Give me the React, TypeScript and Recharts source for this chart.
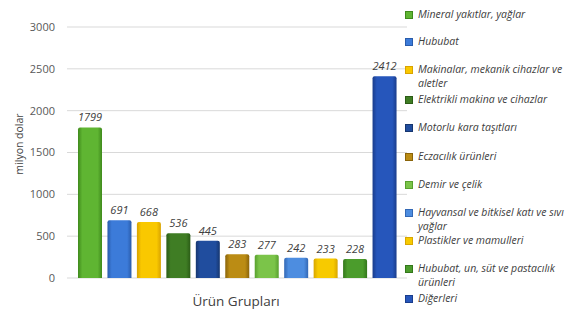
import React from "react";
import { BarChart, Bar, XAxis, YAxis, CartesianGrid, Cell, LabelList } from "recharts";

const categories = [
  "Mineral yakıtlar, yağlar",
  "Hububat",
  "Makinalar, mekanik cihazlar ve aletler",
  "Elektrikli makina ve cihazlar",
  "Motorlu kara taşıtları",
  "Eczacılık ürünleri",
  "Demir ve çelik",
  "Hayvansal ve bitkisel katı ve sıvı yağlar",
  "Plastikler ve mamulleri",
  "Hububat, un, süt ve pastacılık ürünleri",
  "Diğerleri",
];
const values = [1799, 691, 668, 536, 445, 283, 277, 242, 233, 228, 2412];
const yTicks = [0, 500, 1000, 1500, 2000, 2500, 3000];

const colors = [
  ["#5fb532", "#3f8a1c"],
  ["#3c7bd9", "#2a5cab"],
  ["#f9c800", "#d9a300"],
  ["#3f7d24", "#2b5c16"],
  ["#204d9e", "#16366f"],
  ["#bb8c14", "#8a640a"],
  ["#7bc449", "#58a02e"],
  ["#4d8de0", "#3368b5"],
  ["#f7ca00", "#d8a600"],
  ["#4b9c2c", "#33771b"],
  ["#2656bb", "#1a3d8c"],
];

const data = categories.map((name, i) => ({ name, value: values[i] }));

const legendTop = [7, 34, 62, 92, 120, 149, 177, 205, 233, 261, 291];

function LegendBox() {
  return (
    <div style={{ position: "absolute", left: 405, top: 0, width: 183 }}>
      {categories.map((c, i) => (
        <div
          key={c}
          style={{
            position: "absolute",
            top: legendTop[i],
            left: 0,
            width: 180,
            display: "flex",
            alignItems: "flex-start",
            fontFamily: "'Open Sans', sans-serif",
            fontStyle: "italic",
            fontSize: 10.5,
            lineHeight: "14px",
            color: "#404040",
          }}
        >
          <span
            style={{
              display: "inline-block",
              width: 6,
              height: 6,
              marginTop: 4,
              marginRight: 5,
              flex: "none",
              background: colors[i][0],
              border: `1px solid ${colors[i][1]}`,
            }}
          />
          <span>{c}</span>
        </div>
      ))}
    </div>
  );
}

export default function App() {
  return (
    <div style={{ position: "absolute", left: 0, top: 0, width: 588, height: 311, background: "#fff" }}>
      <BarChart
        width={588}
        height={311}
        data={data}
        margin={{ top: 27, right: 181, left: 17, bottom: 33 }}
        barSize={24}
      >
        <defs>
          {colors.map(([base, dark], i) => (
            <linearGradient key={i} id={`g${i}`} x1="0" y1="0" x2="1" y2="0">
              <stop offset="0" stopColor={dark} />
              <stop offset="0.18" stopColor={base} />
              <stop offset="0.82" stopColor={base} />
              <stop offset="1" stopColor={dark} />
            </linearGradient>
          ))}
        </defs>
        <CartesianGrid vertical={false} stroke="#d9d9d9" />
        <XAxis
          dataKey="name"
          tick={false}
          axisLine={false}
          tickLine={false}
          padding={{ left: 8, right: 8 }}
          height={0}
        />
        <YAxis
          domain={[0, 3000]}
          ticks={yTicks}
          width={50}
          axisLine={false}
          tickLine={false}
          tickSize={0}
          tickMargin={12}
          tick={{ fill: "#595959", fontSize: 11, fontFamily: "'Open Sans', sans-serif" }}
        />
        <Bar dataKey="value" isAnimationActive={false} radius={[2, 2, 0, 0]}>
          {data.map((d, i) => (
            <Cell key={d.name} fill={`url(#g${i})`} />
          ))}
          <LabelList
            dataKey="value"
            position="top"
            offset={6}
            style={{ fill: "#404040", fontSize: 11, fontStyle: "italic", fontFamily: "'Open Sans', sans-serif" }}
          />
        </Bar>
        <text
          x={23}
          y={144}
          textAnchor="middle"
          transform="rotate(-90 23 144)"
          style={{ fill: "#404040", fontSize: 10.5, fontFamily: "'Open Sans', sans-serif" }}
        >
          milyon dolar
        </text>
        <text
          x={236}
          y={306}
          textAnchor="middle"
          style={{ fill: "#404040", fontSize: 13.5, fontFamily: "'Open Sans', sans-serif" }}
        >
          Ürün Grupları
        </text>
      </BarChart>
      <LegendBox />
    </div>
  );
}
